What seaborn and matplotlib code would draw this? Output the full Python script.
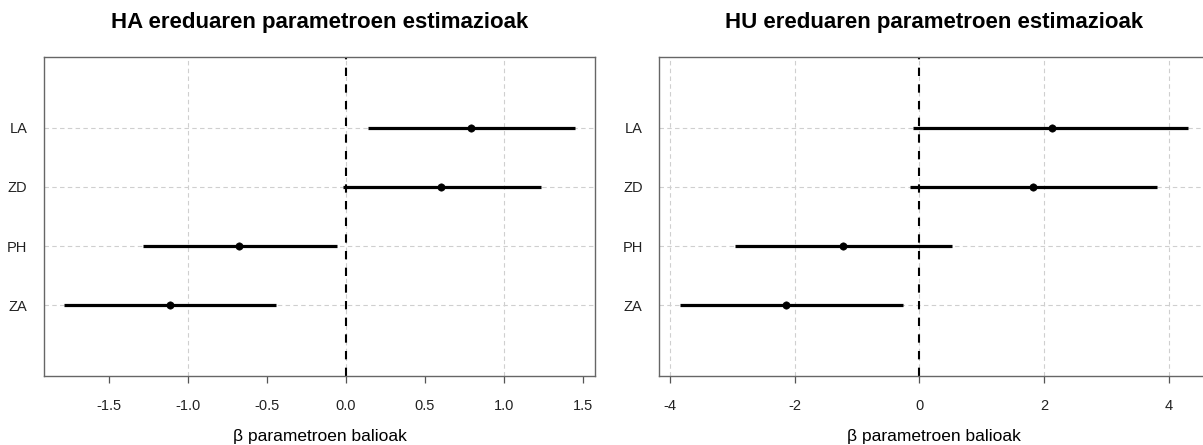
import matplotlib
matplotlib.use("Agg")
import matplotlib.pyplot as plt
import pandas as pd
import seaborn as sns

# parameter names, bottom to top
params = ["ZA", "PH", "ZD", "LA"]

# HA model estimates
ha_est = [-1.114, -0.681, 0.601, 0.795]
ha_low = [-1.785, -1.289, -0.017, 0.137]
ha_high = [-0.443, -0.055, 1.234, 1.449]

# HU model estimates
hu_est = [-2.143, -1.224, 1.822, 2.132]
hu_low = [-3.848, -2.961, -0.144, -0.107]
hu_high = [-0.261, 0.524, 3.810, 4.307]

ha_ticks = [-1.5, -1.0, -0.5, 0.0, 0.5, 1.0, 1.5]
ha_grid = [-1.0, 0.0, 1.0]
hu_ticks = [-4, -2, 0, 2, 4]
hu_grid = [-4, -2, 0, 2, 4]

titles = ["HA ereduaren parametroen estimazioak", "HU ereduaren parametroen estimazioak"]
xlabel = "β parametroen balioak"

sns.set_style("white")
plt.rcParams["font.family"] = ["Liberation Sans", "DejaVu Sans"]
plt.rcParams["text.color"] = "black"

fig = plt.figure(figsize=(12.03, 4.45), dpi=100)
ax1 = fig.add_axes([44 / 1203, 1 - 376 / 445, 551 / 1203, 319 / 445])
ax2 = fig.add_axes([659.3 / 1203, 1 - 376 / 445, 548.7 / 1203, 319 / 445])


def draw_panel(ax, est, low, high, ticks, grid_x, title):
    df = pd.DataFrame({"param": params, "pos": range(1, len(params) + 1),
                       "est": est, "low": low, "high": high})
    lo = min(low)
    hi = max(high)
    span = hi - lo
    ax.set_xlim(lo - 0.04 * span, hi + 0.04 * span)
    ax.set_ylim(-0.2, 5.2)

    # grid
    for gx in grid_x:
        ax.axvline(gx, color="#cfcfcf", lw=0.8, dashes=(4, 3), zorder=0)
    for gy in df["pos"]:
        ax.axhline(gy, color="#cfcfcf", lw=0.8, dashes=(4, 3), zorder=0)

    ax.axvline(0, color="black", lw=1.5, dashes=(4, 4), zorder=1)

    ax.hlines(df["pos"], df["low"], df["high"], color="black", lw=2.3, zorder=2)
    sns.scatterplot(data=df, x="est", y="pos", ax=ax, color="black", s=28,
                    edgecolor="black", zorder=3, legend=False)

    ax.set_yticks(df["pos"])
    ax.set_yticklabels(df["param"])
    ax.set_xticks(ticks)
    ax.set_xticklabels([f"{t:.1f}" if isinstance(t, float) else str(t) for t in ticks])
    ax.tick_params(axis="y", length=0, pad=12, labelsize=10.5, labelcolor="#222222")
    ax.tick_params(axis="x", length=5, width=0.9, color="#555555", pad=11.5,
                   labelsize=10.5, labelcolor="#222222", bottom=True)
    for s in ax.spines.values():
        s.set_color("#666666")
        s.set_linewidth(1.0)
    ax.set_xlabel(xlabel, fontsize=12.5, labelpad=11.5, color="black")
    ax.set_ylabel("")
    ax.set_title(title, fontsize=16, fontweight="bold", pad=21, color="black")


draw_panel(ax1, ha_est, ha_low, ha_high, ha_ticks, ha_grid, titles[0])
draw_panel(ax2, hu_est, hu_low, hu_high, hu_ticks, hu_grid, titles[1])

fig.savefig("out.png", dpi=100)
